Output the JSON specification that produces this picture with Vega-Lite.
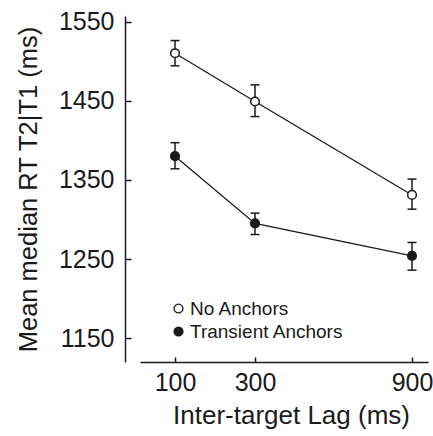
{
  "$schema": "https://vega.github.io/schema/vega-lite/v6.json",
  "width": 288,
  "height": 346,
  "autosize": {"type": "none"},
  "padding": {"left": 140, "top": 16, "right": 5, "bottom": 74},
  "config": {
    "view": {"stroke": null},
    "font": "Liberation Sans",
    "axis": {
      "grid": false,
      "domainColor": "#1a1a1a",
      "tickColor": "#1a1a1a",
      "labelColor": "#1a1a1a",
      "titleColor": "#1a1a1a",
      "domainWidth": 1.5,
      "tickWidth": 1.5,
      "titleFontWeight": "normal"
    }
  },
  "data": {
    "values": [
      {"lag": 100, "rt": 1510, "lo": 1494, "hi": 1526, "cond": "No Anchors"},
      {"lag": 300, "rt": 1449, "lo": 1430, "hi": 1470, "cond": "No Anchors"},
      {"lag": 900, "rt": 1331, "lo": 1313, "hi": 1351, "cond": "No Anchors"},
      {"lag": 100, "rt": 1380, "lo": 1364, "hi": 1397, "cond": "Transient Anchors"},
      {"lag": 300, "rt": 1295, "lo": 1281, "hi": 1308, "cond": "Transient Anchors"},
      {"lag": 900, "rt": 1254, "lo": 1236, "hi": 1271, "cond": "Transient Anchors"}
    ]
  },
  "encoding": {
    "x": {
      "field": "lag",
      "type": "quantitative",
      "scale": {"domain": [12.5, 100, 300, 900, 961], "range": [0, 35, 115, 272, 288]},
      "axis": {
        "values": [100, 300, 900],
        "format": "d",
        "labelFlush": false,
        "tickSize": -5,
        "labelPadding": 13,
        "labelFontSize": 25,
        "titleFontSize": 26,
        "title": "Inter-target  Lag (ms)",
        "titleX": 151,
        "titlePadding": 7
      }
    }
  },
  "layer": [
    {
      "mark": {"type": "rule", "color": "#1a1a1a", "strokeWidth": 1.5},
      "encoding": {
        "y": {
          "field": "lo",
          "type": "quantitative",
          "scale": {"domain": [1120, 1557], "nice": false, "zero": false},
          "axis": {
            "values": [1150, 1250, 1350, 1450, 1550],
            "format": "d",
            "labelFlush": false,
            "tickSize": -6,
            "offset": 15,
            "labelPadding": 17,
            "labelFontSize": 25,
            "title": "Mean median RT T2|T1 (ms)",
            "titleFontSize": 25.5,
            "titlePadding": 17
          }
        },
        "y2": {"field": "hi"}
      }
    },
    {
      "mark": {"type": "tick", "orient": "horizontal", "size": 9, "thickness": 1.5, "color": "#1a1a1a", "opacity": 1},
      "encoding": {"y": {"field": "lo", "type": "quantitative"}}
    },
    {
      "mark": {"type": "tick", "orient": "horizontal", "size": 9, "thickness": 1.5, "color": "#1a1a1a", "opacity": 1},
      "encoding": {"y": {"field": "hi", "type": "quantitative"}}
    },
    {
      "mark": {"type": "line", "color": "#1a1a1a", "strokeWidth": 1.3},
      "encoding": {
        "y": {"field": "rt", "type": "quantitative"},
        "detail": {"field": "cond", "type": "nominal"}
      }
    },
    {
      "mark": {"type": "point", "shape": "circle", "filled": true, "size": 75, "stroke": "#1a1a1a", "strokeWidth": 1.5, "opacity": 1},
      "encoding": {
        "y": {"field": "rt", "type": "quantitative"},
        "fill": {
          "field": "cond",
          "type": "nominal",
          "scale": {"domain": ["No Anchors", "Transient Anchors"], "range": ["white", "#1a1a1a"]},
          "legend": {
            "title": null,
            "orient": "none",
            "legendX": 29,
            "legendY": 283,
            "padding": 0,
            "labelFontSize": 19,
            "labelColor": "#1a1a1a",
            "labelOffset": 2,
            "rowPadding": 3,
            "symbolType": "circle",
            "symbolSize": 80,
            "symbolStrokeColor": "#1a1a1a",
            "symbolStrokeWidth": 1.3,
            "encode": {
              "symbols": {
                "update": {
                  "size": {"signal": "datum.value === 'No Anchors' ? 45 : 100"}
                }
              }
            }
          }
        }
      }
    }
  ]
}
